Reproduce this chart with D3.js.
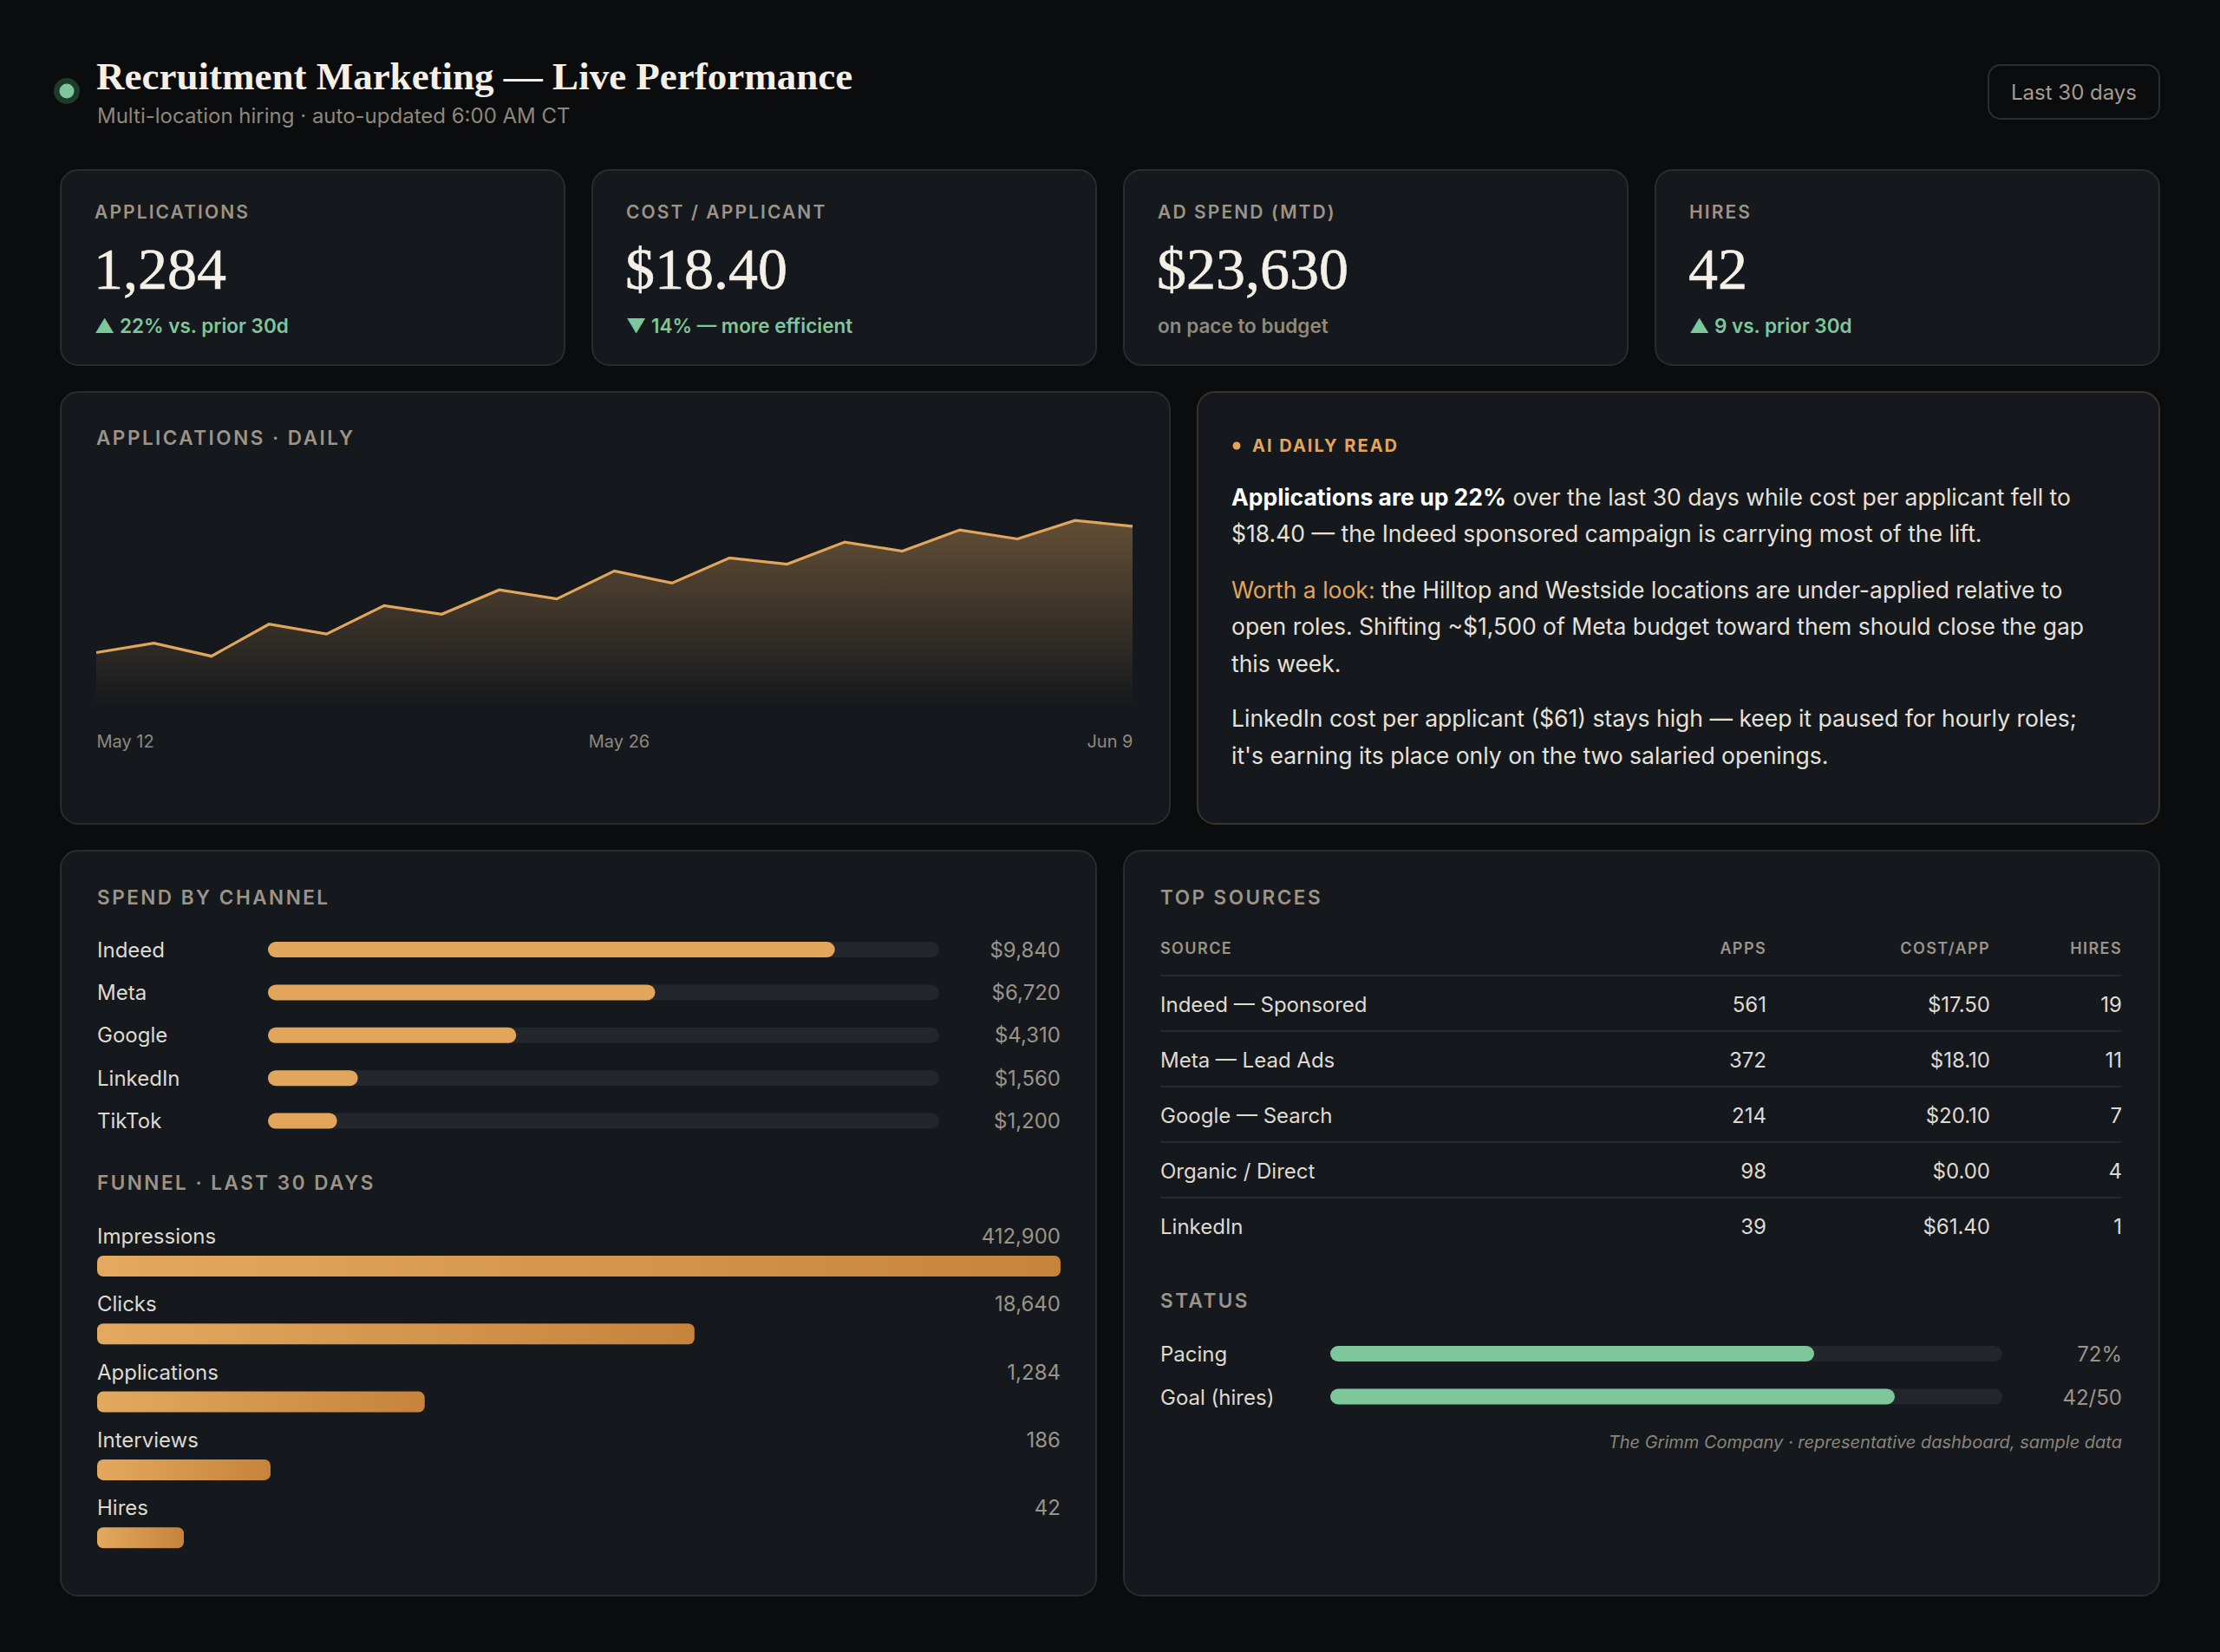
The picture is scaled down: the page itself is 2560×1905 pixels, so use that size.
<!DOCTYPE html>
<html><head><meta charset="utf-8">
<script src="https://cdn.jsdelivr.net/npm/d3@7"></script>
<style>
html,body{margin:0;padding:0;background:#0b0c0e;}
svg{display:block;}
</style></head><body>
<svg id="c" width="2560" height="1905"></svg>
<script>
// ---------- DATA ----------
const titleText = "Recruitment Marketing — Live Performance";
const subtitleText = "Multi-location hiring · auto-updated 6:00 AM CT";
const rangeText = "Last 30 days";

const kpiLabels = ["APPLICATIONS", "COST / APPLICANT", "AD SPEND (MTD)", "HIRES"];
const kpiValues = ["1,284", "$18.40", "$23,630", "42"];
const kpiNotes = ["▲ 22% vs. prior 30d", "▼ 14% — more efficient", "on pace to budget", "▲ 9 vs. prior 30d"];
const kpiNoteGood = [true, true, false, true];

const dailyApps = [32.4, 34.5, 31.6, 38.7, 36.5, 42.8, 40.9, 46.3, 44.3, 50.5, 47.8, 53.4, 52.0, 56.9, 54.9, 59.6, 57.6, 61.7, 60.4];
const dailyTickIndex = [0, 9, 18];
const dailyTickLabels = ["May 12", "May 26", "Jun 9"];
const dailyDomain = [20, 70];

const channels = ["Indeed", "Meta", "Google", "LinkedIn", "TikTok"];
const channelSpend = [9840, 6720, 4310, 1560, 1200];
const spendMax = 11650;

const funnelStages = ["Impressions", "Clicks", "Applications", "Interviews", "Hires"];
const funnelCounts = [412900, 18640, 1284, 186, 42];
const funnelBarShare = [100, 62, 34, 18, 9];

const sourceColumns = ["SOURCE", "APPS", "COST/APP", "HIRES"];
const sourceNames = ["Indeed — Sponsored", "Meta — Lead Ads", "Google — Search", "Organic / Direct", "LinkedIn"];
const sourceApps = [561, 372, 214, 98, 39];
const sourceCost = [17.50, 18.10, 20.10, 0.00, 61.40];
const sourceHires = [19, 11, 7, 4, 1];

const statusLabels = ["Pacing", "Goal (hires)"];
const statusShare = [72, 84];
const statusText = ["72%", "42/50"];

const aiParagraphs = [
  [[["Applications are up 22%", "b"], [" over the last 30 days while cost per applicant fell to", ""]],
   [["$18.40 — the Indeed sponsored campaign is carrying most of the lift.", ""]]],
  [[["Worth a look:", "o"], [" the Hilltop and Westside locations are under-applied relative to", ""]],
   [["open roles. Shifting ~$1,500 of Meta budget toward them should close the gap", ""]],
   [["this week.", ""]]],
  [[["LinkedIn cost per applicant ($61) stays high — keep it paused for hourly roles;", ""]],
   [["it's earning its place only on the two salaried openings.", ""]]]
];
const footnote = "The Grimm Company · representative dashboard, sample data";

// ---------- STYLE ----------
const C = {
  bg: "#0b0c0e", card: "#15181d", border: "#282b30", muted: "#9b9487", text: "#dfdad0",
  bright: "#f4f0e7", orange: "#e1a65b", orangeDark: "#c6833b", green: "#7dc79b", track: "#23262b",
  rule: "#262a2f"
};
const SANS = "Inter, 'Noto Sans', sans-serif";
const SERIF = "'Liberation Serif', 'DejaVu Serif', serif";

const svg = d3.select("#c");
svg.append("rect").attr("width", 2560).attr("height", 1905).attr("fill", C.bg);
const defs = svg.append("defs");

function panel(x, y, w, h, stroke) {
  svg.append("rect").attr("x", x).attr("y", y).attr("width", w).attr("height", h)
    .attr("rx", 20).attr("fill", C.card).attr("stroke", stroke || C.border).attr("stroke-width", 2);
}
function label(g, x, y, t, opts = {}) {
  return g.append("text").attr("x", x).attr("y", y).text(t)
    .attr("font-family", SANS).attr("font-size", opts.size || 22)
    .attr("font-weight", opts.weight || 600).attr("letter-spacing", opts.ls != null ? opts.ls : 2.4)
    .attr("fill", opts.fill || C.muted).attr("text-anchor", opts.anchor || "start");
}

// ---------- HEADER ----------
svg.append("circle").attr("cx", 77).attr("cy", 105).attr("r", 15).attr("fill", "#1d3a2b");
svg.append("circle").attr("cx", 77).attr("cy", 105).attr("r", 8.5).attr("fill", C.green);
svg.append("text").attr("x", 111).attr("y", 103).text(titleText)
  .attr("font-family", SERIF).attr("font-size", 45).attr("font-weight", 700).attr("fill", C.bright);
svg.append("text").attr("x", 112).attr("y", 142).text(subtitleText)
  .attr("font-family", SANS).attr("font-size", 24).attr("fill", "#8d877c");
svg.append("rect").attr("x", 2293).attr("y", 75).attr("width", 197).attr("height", 62).attr("rx", 14)
  .attr("fill", "none").attr("stroke", "#2a2d32").attr("stroke-width", 2);
svg.append("text").attr("x", 2391.5).attr("y", 115).text(rangeText).attr("text-anchor", "middle")
  .attr("font-family", SANS).attr("font-size", 24).attr("fill", "#a39c8f");

// ---------- KPI CARDS ----------
const kpiX = [70, 683, 1296, 1909];
kpiLabels.forEach((l, i) => {
  const x = kpiX[i];
  panel(x, 196, 581, 225);
  label(svg, x + 39, 252, l, { size: 21, ls: 2.1 });
  svg.append("text").attr("x", x + 38).attr("y", 333).text(kpiValues[i])
    .attr("font-family", SERIF).attr("font-size", 68).attr("fill", C.bright)
    .attr("stroke", C.bright).attr("stroke-width", 0.6);
  svg.append("text").attr("x", x + 39).attr("y", 384).text(kpiNotes[i])
    .attr("font-family", SANS).attr("font-size", 22.5).attr("font-weight", 600)
    .attr("fill", kpiNoteGood[i] ? C.green : "#8f897e");
});

// ---------- DAILY CHART ----------
panel(70, 452, 1279, 498);
label(svg, 111, 513, "APPLICATIONS · DAILY", { size: 22.5, ls: 2.5 });
const xD = d3.scaleLinear().domain([0, dailyApps.length - 1]).range([111, 1306]);
const yD = d3.scaleLinear().domain(dailyDomain).range([817, 557]);
const ag = defs.append("linearGradient").attr("id", "areaG").attr("x1", 0).attr("y1", 0).attr("x2", 0).attr("y2", 1);
ag.append("stop").attr("offset", 0).attr("stop-color", C.orange).attr("stop-opacity", 0.38);
ag.append("stop").attr("offset", 1).attr("stop-color", C.orange).attr("stop-opacity", 0);
svg.append("path").datum(dailyApps)
  .attr("d", d3.area().x((d, i) => xD(i)).y0(yD(dailyDomain[0])).y1(d => yD(d)))
  .attr("fill", "url(#areaG)");
svg.append("path").datum(dailyApps)
  .attr("d", d3.line().x((d, i) => xD(i)).y(d => yD(d)))
  .attr("fill", "none").attr("stroke", C.orange).attr("stroke-width", 3.2);
const ax = svg.append("g").attr("transform", `translate(0,${yD(dailyDomain[0])})`)
  .call(d3.axisBottom(xD).tickValues(dailyTickIndex).tickFormat((d, i) => dailyTickLabels[i]).tickSize(0).tickPadding(31));
ax.select(".domain").remove();
ax.selectAll("text").attr("font-family", SANS).attr("font-size", 20).attr("fill", "#8f897e")
  .attr("text-anchor", (d, i) => i === 0 ? "start" : (i === dailyTickIndex.length - 1 ? "end" : "middle"))
  .attr("dx", (d, i) => (i > 0 && i < dailyTickIndex.length - 1) ? 5 : 0);

// ---------- AI DAILY READ ----------
panel(1381, 452, 1109, 498, "#3a3329");
svg.append("circle").attr("cx", 1426).attr("cy", 514).attr("r", 4.5).attr("fill", C.orange);
label(svg, 1444, 521, "AI DAILY READ", { size: 20, weight: 700, ls: 2, fill: C.orange });
const aiBase = [[583, 625], [690, 732, 775], [838, 881]];
aiParagraphs.forEach((p, pi) => {
  p.forEach((line, li) => {
    const t = svg.append("text").attr("x", 1420).attr("y", aiBase[pi][li])
      .attr("font-family", SANS).attr("font-size", 26.5).attr("fill", "#e6e1d8");
    line.forEach(([s, k]) => {
      const ts = t.append("tspan").text(s);
      if (k === "b") ts.attr("font-weight", 700).attr("fill", "#ffffff");
      if (k === "o") ts.attr("fill", C.orange);
    });
  });
});

// ---------- SPEND BY CHANNEL + FUNNEL ----------
panel(70, 981, 1194, 859);
label(svg, 112, 1043, "SPEND BY CHANNEL", { size: 22.5, ls: 2.5 });
const xS = d3.scaleLinear().domain([0, spendMax]).range([0, 774]);
const yS = d3.scaleBand().domain(channels).range([1070.3, 1317.3]);
const fmtMoney0 = d3.format("$,.0f");
channels.forEach((c, i) => {
  const cy = yS(c) + yS.bandwidth() / 2;
  svg.append("text").attr("x", 112).attr("y", cy + 8.5).text(c)
    .attr("font-family", SANS).attr("font-size", 24).attr("fill", C.text);
  svg.append("rect").attr("x", 309).attr("y", cy - 9).attr("width", xS(spendMax)).attr("height", 18)
    .attr("rx", 9).attr("fill", C.track);
  svg.append("rect").attr("x", 309).attr("y", cy - 9).attr("width", xS(channelSpend[i])).attr("height", 18)
    .attr("rx", 9).attr("fill", C.orange);
  svg.append("text").attr("x", 1223).attr("y", cy + 8.5).text(fmtMoney0(channelSpend[i]))
    .attr("text-anchor", "end").attr("font-family", SANS).attr("font-size", 24).attr("fill", "#9a9488");
});

label(svg, 112, 1372, "FUNNEL · LAST 30 DAYS", { size: 22.5, ls: 2.5 });
const fg = defs.append("linearGradient").attr("id", "funG").attr("x1", 0).attr("y1", 0).attr("x2", 1).attr("y2", 0);
fg.append("stop").attr("offset", 0).attr("stop-color", "#e3a95f");
fg.append("stop").attr("offset", 1).attr("stop-color", C.orangeDark);
const xF = d3.scaleLinear().domain([0, 100]).range([0, 1111]);
const yF = d3.scaleBand().domain(funnelStages).range([1434, 1434 + 78.3 * 5]);
const fmtInt = d3.format(",");
funnelStages.forEach((s, i) => {
  const b = yF(s);
  svg.append("text").attr("x", 112).attr("y", b).text(s)
    .attr("font-family", SANS).attr("font-size", 24).attr("fill", C.text);
  svg.append("text").attr("x", 1223).attr("y", b).text(fmtInt(funnelCounts[i])).attr("text-anchor", "end")
    .attr("font-family", SANS).attr("font-size", 24).attr("fill", "#9a9488");
  svg.append("rect").attr("x", 112).attr("y", b + 14).attr("width", xF(funnelBarShare[i])).attr("height", 24)
    .attr("rx", 7).attr("fill", "url(#funG)");
});

// ---------- TOP SOURCES + STATUS ----------
panel(1296, 981, 1194, 859);
label(svg, 1338, 1043, "TOP SOURCES", { size: 22.5, ls: 2.5 });
const colRight = [null, 2037, 2295, 2447];
sourceColumns.forEach((c, i) => {
  label(svg, i === 0 ? 1338 : colRight[i], 1100, c, { size: 18, ls: 1.4, anchor: i === 0 ? "start" : "end" });
});
const yT = d3.scaleBand().domain(sourceNames).range([1125, 1125 + 64 * 5]);
const fmtCost = d3.format("$.2f");
sourceNames.forEach((n, i) => {
  const top = yT(n);
  svg.append("line").attr("x1", 1338).attr("x2", 2447).attr("y1", top).attr("y2", top)
    .attr("stroke", C.rule).attr("stroke-width", 2);
  const base = top + 42;
  const cells = [n, String(sourceApps[i]), fmtCost(sourceCost[i]), String(sourceHires[i])];
  cells.forEach((v, j) => {
    svg.append("text").attr("x", j === 0 ? 1338 : colRight[j]).attr("y", base).text(v)
      .attr("text-anchor", j === 0 ? "start" : "end")
      .attr("font-family", SANS).attr("font-size", 24).attr("fill", C.text);
  });
});

label(svg, 1338, 1508, "STATUS", { size: 22.5, ls: 2.5 });
const xP = d3.scaleLinear().domain([0, 100]).range([0, 775]);
const yP = d3.scaleBand().domain(statusLabels).range([1552, 1552 + 49.5 * 2]);
statusLabels.forEach((s, i) => {
  const top = yP(s);
  svg.append("text").attr("x", 1338).attr("y", top + 18).text(s)
    .attr("font-family", SANS).attr("font-size", 24).attr("fill", C.text);
  svg.append("rect").attr("x", 1534).attr("y", top).attr("width", xP(100)).attr("height", 18)
    .attr("rx", 9).attr("fill", C.track);
  svg.append("rect").attr("x", 1534).attr("y", top).attr("width", xP(statusShare[i])).attr("height", 18)
    .attr("rx", 9).attr("fill", C.green);
  svg.append("text").attr("x", 2447).attr("y", top + 18).text(statusText[i]).attr("text-anchor", "end")
    .attr("font-family", SANS).attr("font-size", 24).attr("fill", "#9a9488");
});
svg.append("text").attr("x", 2447).attr("y", 1670).text(footnote).attr("text-anchor", "end")
  .attr("font-family", SANS).attr("font-size", 20).attr("font-style", "italic").attr("fill", "#8a847a");
</script>
</body></html>
